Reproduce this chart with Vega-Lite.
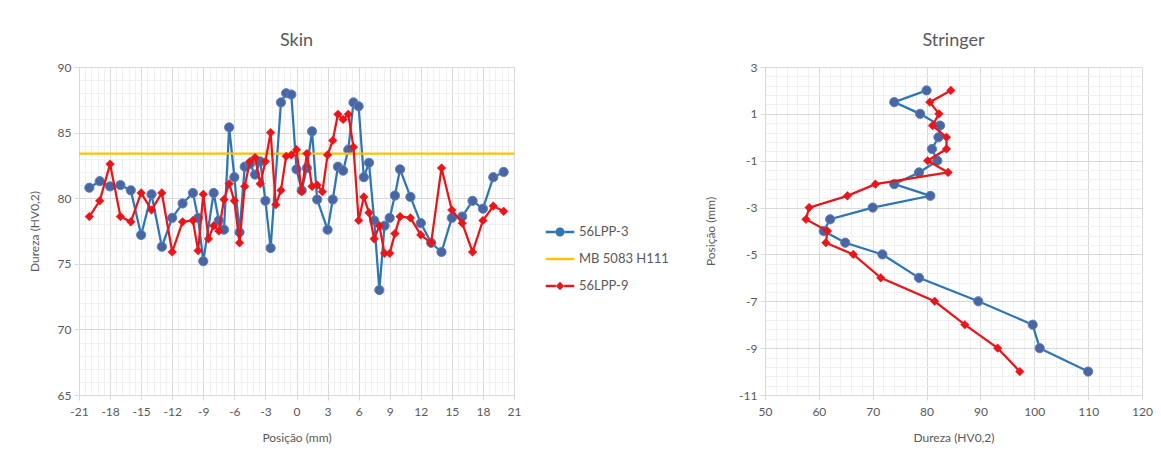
{
 "$schema": "https://vega.github.io/schema/vega-lite/v6.json",
 "padding": {"left": 28, "top": 32, "right": 5, "bottom": 5},
 "spacing": 35,
 "background": "white",
 "config": {
  "font": "Lato",
  "view": {"stroke": null},
  "axis": {"labelFont": "Lato", "labelFontSize": 12, "labelColor": "#595959", "titleFont": "Lato", "titleFontSize": 12, "titleColor": "#595959", "titleFontWeight": "normal", "domainColor": "#d9d9d9", "tickColor": "#d9d9d9", "tickSize": 5, "labelOverlap": false, "labelFlush": false, "labelPadding": 3},
  "title": {"font": "Lato", "fontSize": 18, "fontWeight": "normal", "color": "#595959", "anchor": "middle", "offset": 11}
 },
 "datasets": {
  "skin": [
   {"series": "56LPP-3", "pos": -20, "hv": 80.8},
   {"series": "56LPP-3", "pos": -19, "hv": 81.3},
   {"series": "56LPP-3", "pos": -18, "hv": 80.9},
   {"series": "56LPP-3", "pos": -17, "hv": 81.0},
   {"series": "56LPP-3", "pos": -16, "hv": 80.6},
   {"series": "56LPP-3", "pos": -15, "hv": 77.2},
   {"series": "56LPP-3", "pos": -14, "hv": 80.3},
   {"series": "56LPP-3", "pos": -13, "hv": 76.3},
   {"series": "56LPP-3", "pos": -12, "hv": 78.5},
   {"series": "56LPP-3", "pos": -11, "hv": 79.6},
   {"series": "56LPP-3", "pos": -10, "hv": 80.4},
   {"series": "56LPP-3", "pos": -9.5, "hv": 78.5},
   {"series": "56LPP-3", "pos": -9, "hv": 75.2},
   {"series": "56LPP-3", "pos": -8, "hv": 80.4},
   {"series": "56LPP-3", "pos": -7.5, "hv": 78.3},
   {"series": "56LPP-3", "pos": -7, "hv": 77.6},
   {"series": "56LPP-3", "pos": -6.5, "hv": 85.4},
   {"series": "56LPP-3", "pos": -6, "hv": 81.6},
   {"series": "56LPP-3", "pos": -5.5, "hv": 77.4},
   {"series": "56LPP-3", "pos": -5, "hv": 82.4},
   {"series": "56LPP-3", "pos": -4.5, "hv": 82.6},
   {"series": "56LPP-3", "pos": -4, "hv": 81.8},
   {"series": "56LPP-3", "pos": -3.5, "hv": 82.8},
   {"series": "56LPP-3", "pos": -3, "hv": 79.8},
   {"series": "56LPP-3", "pos": -2.5, "hv": 76.2},
   {"series": "56LPP-3", "pos": -1.5, "hv": 87.3},
   {"series": "56LPP-3", "pos": -1, "hv": 88.0},
   {"series": "56LPP-3", "pos": -0.5, "hv": 87.9},
   {"series": "56LPP-3", "pos": 0, "hv": 82.2},
   {"series": "56LPP-3", "pos": 0.5, "hv": 80.6},
   {"series": "56LPP-3", "pos": 1, "hv": 82.3},
   {"series": "56LPP-3", "pos": 1.5, "hv": 85.1},
   {"series": "56LPP-3", "pos": 2, "hv": 79.9},
   {"series": "56LPP-3", "pos": 3, "hv": 77.6},
   {"series": "56LPP-3", "pos": 3.5, "hv": 79.9},
   {"series": "56LPP-3", "pos": 4, "hv": 82.4},
   {"series": "56LPP-3", "pos": 4.5, "hv": 82.1},
   {"series": "56LPP-3", "pos": 5, "hv": 83.7},
   {"series": "56LPP-3", "pos": 5.5, "hv": 87.3},
   {"series": "56LPP-3", "pos": 6, "hv": 87.0},
   {"series": "56LPP-3", "pos": 6.5, "hv": 81.6},
   {"series": "56LPP-3", "pos": 7, "hv": 82.7},
   {"series": "56LPP-3", "pos": 7.5, "hv": 78.3},
   {"series": "56LPP-3", "pos": 8, "hv": 73.0},
   {"series": "56LPP-3", "pos": 8.5, "hv": 77.9},
   {"series": "56LPP-3", "pos": 9, "hv": 78.5},
   {"series": "56LPP-3", "pos": 9.5, "hv": 80.2},
   {"series": "56LPP-3", "pos": 10, "hv": 82.2},
   {"series": "56LPP-3", "pos": 11, "hv": 80.1},
   {"series": "56LPP-3", "pos": 12, "hv": 78.1},
   {"series": "56LPP-3", "pos": 13, "hv": 76.6},
   {"series": "56LPP-3", "pos": 14, "hv": 75.9},
   {"series": "56LPP-3", "pos": 15, "hv": 78.5},
   {"series": "56LPP-3", "pos": 16, "hv": 78.6},
   {"series": "56LPP-3", "pos": 17, "hv": 79.8},
   {"series": "56LPP-3", "pos": 18, "hv": 79.2},
   {"series": "56LPP-3", "pos": 19, "hv": 81.6},
   {"series": "56LPP-3", "pos": 20, "hv": 82.0},
   {"series": "MB 5083 H111", "pos": -21, "hv": 83.4},
   {"series": "MB 5083 H111", "pos": 21, "hv": 83.4},
   {"series": "56LPP-9", "pos": -20, "hv": 78.6},
   {"series": "56LPP-9", "pos": -19, "hv": 79.8},
   {"series": "56LPP-9", "pos": -18, "hv": 82.6},
   {"series": "56LPP-9", "pos": -17, "hv": 78.6},
   {"series": "56LPP-9", "pos": -16, "hv": 78.2},
   {"series": "56LPP-9", "pos": -15, "hv": 80.4},
   {"series": "56LPP-9", "pos": -14, "hv": 79.1},
   {"series": "56LPP-9", "pos": -13, "hv": 80.4},
   {"series": "56LPP-9", "pos": -12, "hv": 75.9},
   {"series": "56LPP-9", "pos": -11, "hv": 78.2},
   {"series": "56LPP-9", "pos": -10, "hv": 78.3},
   {"series": "56LPP-9", "pos": -9.5, "hv": 76.0},
   {"series": "56LPP-9", "pos": -9, "hv": 80.3},
   {"series": "56LPP-9", "pos": -8.5, "hv": 76.9},
   {"series": "56LPP-9", "pos": -8, "hv": 77.9},
   {"series": "56LPP-9", "pos": -7.5, "hv": 77.5},
   {"series": "56LPP-9", "pos": -7, "hv": 79.9},
   {"series": "56LPP-9", "pos": -6.5, "hv": 81.1},
   {"series": "56LPP-9", "pos": -6, "hv": 79.8},
   {"series": "56LPP-9", "pos": -5.5, "hv": 76.6},
   {"series": "56LPP-9", "pos": -5, "hv": 80.9},
   {"series": "56LPP-9", "pos": -4.5, "hv": 82.8},
   {"series": "56LPP-9", "pos": -4, "hv": 83.1},
   {"series": "56LPP-9", "pos": -3.5, "hv": 81.1},
   {"series": "56LPP-9", "pos": -3, "hv": 82.8},
   {"series": "56LPP-9", "pos": -2.5, "hv": 85.0},
   {"series": "56LPP-9", "pos": -2, "hv": 79.5},
   {"series": "56LPP-9", "pos": -1.5, "hv": 80.6},
   {"series": "56LPP-9", "pos": -1, "hv": 83.2},
   {"series": "56LPP-9", "pos": -0.5, "hv": 83.3},
   {"series": "56LPP-9", "pos": 0, "hv": 83.7},
   {"series": "56LPP-9", "pos": 0.5, "hv": 80.5},
   {"series": "56LPP-9", "pos": 1, "hv": 83.4},
   {"series": "56LPP-9", "pos": 1.5, "hv": 80.9},
   {"series": "56LPP-9", "pos": 2, "hv": 81.0},
   {"series": "56LPP-9", "pos": 2.5, "hv": 80.5},
   {"series": "56LPP-9", "pos": 3, "hv": 83.3},
   {"series": "56LPP-9", "pos": 3.5, "hv": 84.4},
   {"series": "56LPP-9", "pos": 4, "hv": 86.4},
   {"series": "56LPP-9", "pos": 4.5, "hv": 86.0},
   {"series": "56LPP-9", "pos": 5, "hv": 86.4},
   {"series": "56LPP-9", "pos": 5.5, "hv": 83.9},
   {"series": "56LPP-9", "pos": 6, "hv": 78.3},
   {"series": "56LPP-9", "pos": 6.5, "hv": 80.1},
   {"series": "56LPP-9", "pos": 7, "hv": 78.9},
   {"series": "56LPP-9", "pos": 7.5, "hv": 76.9},
   {"series": "56LPP-9", "pos": 8, "hv": 77.9},
   {"series": "56LPP-9", "pos": 8.5, "hv": 75.8},
   {"series": "56LPP-9", "pos": 9, "hv": 75.8},
   {"series": "56LPP-9", "pos": 9.5, "hv": 77.3},
   {"series": "56LPP-9", "pos": 10, "hv": 78.6},
   {"series": "56LPP-9", "pos": 11, "hv": 78.5},
   {"series": "56LPP-9", "pos": 12, "hv": 77.2},
   {"series": "56LPP-9", "pos": 13, "hv": 76.6},
   {"series": "56LPP-9", "pos": 14, "hv": 82.3},
   {"series": "56LPP-9", "pos": 15, "hv": 79.1},
   {"series": "56LPP-9", "pos": 16, "hv": 78.1},
   {"series": "56LPP-9", "pos": 17, "hv": 75.9},
   {"series": "56LPP-9", "pos": 18, "hv": 78.3},
   {"series": "56LPP-9", "pos": 19, "hv": 79.4},
   {"series": "56LPP-9", "pos": 20, "hv": 79.0}
  ],
  "stringer": [
   {"series": "56LPP-3", "pos": 2, "hv": 80.0},
   {"series": "56LPP-3", "pos": 1.5, "hv": 74.0},
   {"series": "56LPP-3", "pos": 1, "hv": 78.8},
   {"series": "56LPP-3", "pos": 0.5, "hv": 82.5},
   {"series": "56LPP-3", "pos": 0, "hv": 82.2},
   {"series": "56LPP-3", "pos": -0.5, "hv": 81.0},
   {"series": "56LPP-3", "pos": -1, "hv": 82.0},
   {"series": "56LPP-3", "pos": -1.5, "hv": 78.6},
   {"series": "56LPP-3", "pos": -2, "hv": 74.0},
   {"series": "56LPP-3", "pos": -2.5, "hv": 80.7},
   {"series": "56LPP-3", "pos": -3, "hv": 70.0},
   {"series": "56LPP-3", "pos": -3.5, "hv": 62.1},
   {"series": "56LPP-3", "pos": -4, "hv": 60.9},
   {"series": "56LPP-3", "pos": -4.5, "hv": 64.9},
   {"series": "56LPP-3", "pos": -5, "hv": 71.8},
   {"series": "56LPP-3", "pos": -6, "hv": 78.6},
   {"series": "56LPP-3", "pos": -7, "hv": 89.6},
   {"series": "56LPP-3", "pos": -8, "hv": 99.7},
   {"series": "56LPP-3", "pos": -9, "hv": 101.0},
   {"series": "56LPP-3", "pos": -10, "hv": 110.0},
   {"series": "56LPP-9", "pos": 2, "hv": 84.5},
   {"series": "56LPP-9", "pos": 1.5, "hv": 80.6},
   {"series": "56LPP-9", "pos": 1, "hv": 82.3},
   {"series": "56LPP-9", "pos": 0.5, "hv": 81.1},
   {"series": "56LPP-9", "pos": 0, "hv": 83.7},
   {"series": "56LPP-9", "pos": -0.5, "hv": 83.7},
   {"series": "56LPP-9", "pos": -1, "hv": 80.2},
   {"series": "56LPP-9", "pos": -1.5, "hv": 84.0},
   {"series": "56LPP-9", "pos": -2, "hv": 70.5},
   {"series": "56LPP-9", "pos": -2.5, "hv": 65.3},
   {"series": "56LPP-9", "pos": -3, "hv": 58.2},
   {"series": "56LPP-9", "pos": -3.5, "hv": 57.6},
   {"series": "56LPP-9", "pos": -4, "hv": 61.6},
   {"series": "56LPP-9", "pos": -4.5, "hv": 61.3},
   {"series": "56LPP-9", "pos": -5, "hv": 66.4},
   {"series": "56LPP-9", "pos": -6, "hv": 71.5},
   {"series": "56LPP-9", "pos": -7, "hv": 81.5},
   {"series": "56LPP-9", "pos": -8, "hv": 87.1},
   {"series": "56LPP-9", "pos": -9, "hv": 93.2},
   {"series": "56LPP-9", "pos": -10, "hv": 97.3}
  ]
 },
 "resolve": {"scale": {"color": "independent"}, "legend": {"color": "independent"}},
 "hconcat": [
  {
   "width": 435,
   "height": 328,
   "title": "Skin",
   "data": {"name": "skin"},
   "encoding": {
    "x": {"field": "pos", "type": "quantitative", "scale": {"domain": [-21, 21], "nice": false, "zero": false},
     "axis": {"title": "Posição (mm)", "titlePadding": 15, "labelPadding": 6,
      "values": [-21, -20.4, -19.8, -19.2, -18.6, -18, -17.4, -16.8, -16.2, -15.6, -15, -14.4, -13.8, -13.2, -12.6, -12, -11.4, -10.8, -10.2, -9.6, -9, -8.4, -7.8, -7.2, -6.6, -6, -5.4, -4.8, -4.2, -3.6, -3, -2.4, -1.8, -1.2, -0.6, 0, 0.6, 1.2, 1.8, 2.4, 3, 3.6, 4.2, 4.8, 5.4, 6, 6.6, 7.2, 7.8, 8.4, 9, 9.6, 10.2, 10.8, 11.4, 12, 12.6, 13.2, 13.8, 14.4, 15, 15.6, 16.2, 16.8, 17.4, 18, 18.6, 19.2, 19.8, 20.4, 21],
      "labelExpr": "abs(datum.value/3 - round(datum.value/3)) < 0.001 ? '' + round(datum.value) : ''",
      "gridColor": {"condition": {"test": "abs(datum.value/3 - round(datum.value/3)) < 0.001", "value": "#d9d9d9"}, "value": "#f0f0f0"},
      "tickOpacity": {"condition": {"test": "abs(datum.value/3 - round(datum.value/3)) < 0.001", "value": 1}, "value": 0}}},
    "y": {"field": "hv", "type": "quantitative", "scale": {"domain": [65, 90], "nice": false, "zero": false},
     "axis": {"title": "Dureza (HV0,2)", "titlePadding": 16,
      "values": [65, 66, 67, 68, 69, 70, 71, 72, 73, 74, 75, 76, 77, 78, 79, 80, 81, 82, 83, 84, 85, 86, 87, 88, 89, 90],
      "labelExpr": "datum.value % 5 === 0 ? '' + datum.value : ''",
      "gridColor": {"condition": {"test": "datum.value % 5 === 0", "value": "#d9d9d9"}, "value": "#f0f0f0"},
      "tickOpacity": {"condition": {"test": "datum.value % 5 === 0", "value": 1}, "value": 0}}}
   },
   "layer": [
    {"transform": [{"filter": "datum.series === '56LPP-3'"}],
     "mark": {"type": "line", "strokeWidth": 2.25},
     "encoding": {"color": {"field": "series", "type": "nominal",
      "scale": {"domain": ["56LPP-3", "MB 5083 H111", "56LPP-9"], "range": ["#2e75b6", "#ffc000", "#e8161b"]},
      "legend": {"title": null, "orient": "none", "legendX": 466, "legendY": 150, "symbolSize": 900, "labelFont": "Lato", "labelFontSize": 13, "labelColor": "#595959", "labelOffset": 4, "rowPadding": 5,
       "encode": {"symbols": {"update": {
        "shape": {"signal": "datum.value === '56LPP-3' ? 'M-0.95,-0.08H-0.3V0.08H-0.95Z M0.3,-0.08H0.95V0.08H0.3Z M-0.3,0A0.3,0.3 0 1,1 0.3,0A0.3,0.3 0 1,1 -0.3,0Z' : datum.value === '56LPP-9' ? 'M-0.95,-0.08H-0.28V0.08H-0.95Z M0.28,-0.08H0.95V0.08H0.28Z M0,-0.28L0.28,0L0,0.28L-0.28,0Z' : 'M-0.95,-0.08H0.95V0.08H-0.95Z'"},
        "fill": {"signal": "datum.value === '56LPP-3' ? '#2e75b6' : datum.value === '56LPP-9' ? '#e8161b' : '#ffc000'"},
        "strokeWidth": {"value": 0},
        "opacity": {"value": 1}}}}}}}},
    {"transform": [{"filter": "datum.series === '56LPP-3'"}],
     "mark": {"type": "point", "shape": "circle", "filled": true, "size": 85, "fill": "#4a66a0", "stroke": "#5b7fc0", "strokeWidth": 1, "opacity": 1}},
    {"transform": [{"filter": "datum.series === 'MB 5083 H111'"}],
     "mark": {"type": "line", "strokeWidth": 2.25},
     "encoding": {"color": {"field": "series", "type": "nominal"}}},
    {"transform": [{"filter": "datum.series === '56LPP-9'"}],
     "mark": {"type": "line", "strokeWidth": 2.25},
     "encoding": {"color": {"field": "series", "type": "nominal"}}},
    {"transform": [{"filter": "datum.series === '56LPP-9'"}],
     "mark": {"type": "point", "shape": "diamond", "filled": true, "size": 75, "fill": "#e8161b", "stroke": "#e8161b", "strokeWidth": 0.5, "opacity": 1}}
   ]
  },
  {
   "width": 377,
   "height": 328,
   "title": "Stringer",
   "data": {"name": "stringer"},
   "encoding": {
    "x": {"field": "hv", "type": "quantitative", "scale": {"domain": [50, 120], "nice": false, "zero": false},
     "axis": {"title": "Dureza (HV0,2)", "titlePadding": 15, "labelPadding": 6,
      "values": [50, 52, 54, 56, 58, 60, 62, 64, 66, 68, 70, 72, 74, 76, 78, 80, 82, 84, 86, 88, 90, 92, 94, 96, 98, 100, 102, 104, 106, 108, 110, 112, 114, 116, 118, 120],
      "labelExpr": "datum.value % 10 === 0 ? '' + datum.value : ''",
      "gridColor": {"condition": {"test": "datum.value % 10 === 0", "value": "#d9d9d9"}, "value": "#f0f0f0"},
      "tickOpacity": {"condition": {"test": "datum.value % 10 === 0", "value": 1}, "value": 0}}},
    "y": {"field": "pos", "type": "quantitative", "scale": {"domain": [-11, 3], "nice": false, "zero": false},
     "axis": {"title": "Posição (mm)", "titlePadding": 21,
      "values": [-11, -10.6, -10.2, -9.8, -9.4, -9, -8.6, -8.2, -7.8, -7.4, -7, -6.6, -6.2, -5.8, -5.4, -5, -4.6, -4.2, -3.8, -3.4, -3, -2.6, -2.2, -1.8, -1.4, -1, -0.6, -0.2, 0.2, 0.6, 1, 1.4, 1.8, 2.2, 2.6, 3],
      "labelExpr": "(abs(datum.value - round(datum.value)) < 0.01 && abs(round(datum.value)) % 2 === 1) ? '' + round(datum.value) : ''",
      "gridColor": {"condition": {"test": "abs(datum.value - round(datum.value)) < 0.01 && abs(round(datum.value)) % 2 === 1", "value": "#d9d9d9"}, "value": "#f0f0f0"},
      "tickOpacity": {"condition": {"test": "abs(datum.value - round(datum.value)) < 0.01 && abs(round(datum.value)) % 2 === 1", "value": 1}, "value": 0}}}
   },
   "layer": [
    {"transform": [{"filter": "datum.series === '56LPP-3'"}],
     "mark": {"type": "line", "strokeWidth": 2.25, "color": "#2e75b6"},
     "encoding": {"order": {"field": "pos", "sort": "descending"}}},
    {"transform": [{"filter": "datum.series === '56LPP-3'"}],
     "mark": {"type": "point", "shape": "circle", "filled": true, "size": 85, "fill": "#4a66a0", "stroke": "#5b7fc0", "strokeWidth": 1, "opacity": 1}},
    {"transform": [{"filter": "datum.series === '56LPP-9'"}],
     "mark": {"type": "line", "strokeWidth": 2.25, "color": "#e8161b"},
     "encoding": {"order": {"field": "pos", "sort": "descending"}}},
    {"transform": [{"filter": "datum.series === '56LPP-9'"}],
     "mark": {"type": "point", "shape": "diamond", "filled": true, "size": 75, "fill": "#e8161b", "stroke": "#e8161b", "strokeWidth": 0.5, "opacity": 1}}
   ]
  }
 ]
}
